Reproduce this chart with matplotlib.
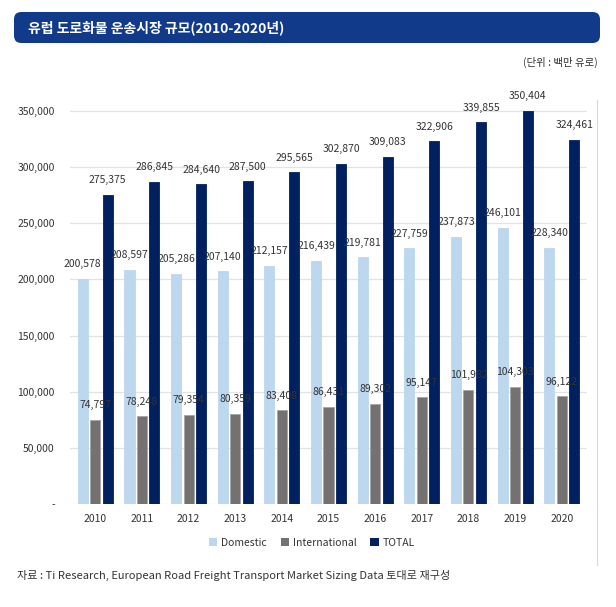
import matplotlib
matplotlib.use('Agg')
import matplotlib.pyplot as plt
from matplotlib.patches import FancyBboxPatch, Patch
from matplotlib.lines import Line2D
import numpy as np

plt.rcParams['font.family'] = ['Noto Sans CJK KR', 'DejaVu Sans']

years = ['2010', '2011', '2012', '2013', '2014', '2015', '2016', '2017', '2018', '2019', '2020']
domestic = [200578, 208597, 205286, 207140, 212157, 216439, 219781, 227759, 237873, 246101, 228340]
international = [74797, 78248, 79354, 80359, 83408, 86431, 89302, 95147, 101982, 104303, 96122]
total = [275375, 286845, 284640, 287500, 295565, 302870, 309083, 322906, 339855, 350404, 324461]
series_names = ['Domestic', 'International', 'TOTAL']
yticks = [0, 50000, 100000, 150000, 200000, 250000, 300000, 350000]

colors = ['#BDD7EE', '#767171', '#002060']
txt = '#333333'

W, H = 616, 607
fig = plt.figure(figsize=(W / 100, H / 100), dpi=100)

# title banner
banner = FancyBboxPatch((14 / W, 1 - 43 / H), 586 / W, 31 / H,
                        boxstyle='round,pad=0,rounding_size=0.012',
                        transform=fig.transFigure, facecolor='#123A8A',
                        edgecolor='none')
fig.patches.append(banner)
fig.text(28 / W, 1 - 27.5 / H, '유럽 도로화물 운송시장 규모(2010-2020년)', color='white',
         fontsize=10, fontweight='bold', va='center', ha='left')
fig.text(598 / W, 1 - 62 / H, '(단위 : 백만 유로)', color=txt, fontsize=7.5,
         ha='right', va='center')

# right frame line
fig.add_artist(Line2D([597 / W, 597 / W], [1 - 100 / H, 1 - 565 / H],
                      transform=fig.transFigure, color='#D9D9D9', lw=0.8))

ax = fig.add_axes([70 / W, 1 - 504 / H, 517 / W, 415.4 / H])
x = np.arange(len(years))
bw = 0.215
offs = [-0.265, 0, 0.27]
data = [domestic, international, total]
for vals, off, c in zip(data, offs, colors):
    ec = '#A6A6A6' if c == '#767171' else c
    ax.bar(x + off, vals, width=bw, color=c, edgecolor=ec, linewidth=0.6, zorder=3)
    for xi, v in zip(x, vals):
        ax.annotate(f'{v:,}', (xi + off, v), xytext=(0, 10.5), textcoords='offset points',
                    ha='center', va='center', fontsize=7.5, color=txt, zorder=5)

ax.set_xlim(-0.54, 10.54)
ax.set_ylim(0, 370000)
ax.set_yticks(yticks)
ax.set_yticklabels(['-' if t == 0 else f'{t:,}' for t in yticks])
ax.set_xticks(x)
ax.set_xticklabels(years)
ax.tick_params(axis='both', length=0, labelsize=7.5, labelcolor=txt)
ax.tick_params(axis='y', pad=11)
ax.tick_params(axis='x', pad=7)
ax.yaxis.grid(True, color='#E3E3E3', lw=0.9, zorder=0)
for s in ax.spines.values():
    s.set_visible(False)

handles = [Patch(facecolor=c, edgecolor='none') for c in colors]
fig.legend(handles, series_names, loc='center', bbox_to_anchor=(312 / W, 1 - 543 / H),
           ncol=3, frameon=False, fontsize=7.5, handlelength=0.8, handleheight=0.8,
           handletextpad=0.4, columnspacing=1.3, labelcolor=txt)

fig.text(17 / W, 1 - 575 / H,
         '자료 : Ti Research, European Road Freight Transport Market Sizing Data 토대로 재구성',
         fontsize=8, color=txt, ha='left', va='center')

fig.savefig('out.png', dpi=100)
